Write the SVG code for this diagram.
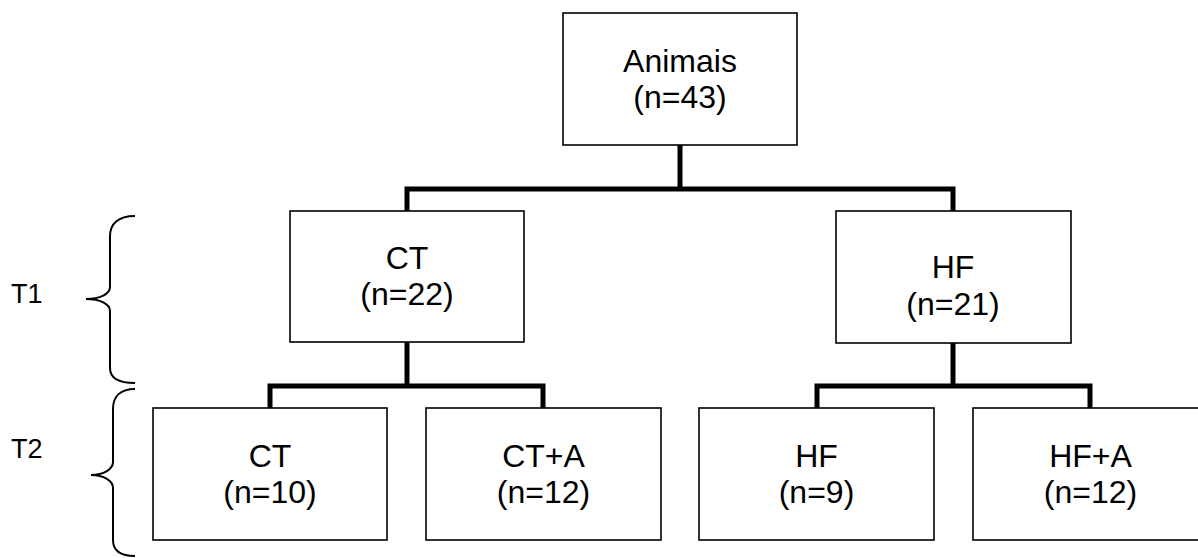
<svg xmlns="http://www.w3.org/2000/svg" width="1198" height="558" viewBox="0 0 1198 558">
<style>
.box{fill:#fff;stroke:#000;stroke-width:1.6}
.lbl{font-family:"Liberation Sans",Arial,sans-serif;font-size:32px;fill:#000;text-anchor:middle}
.side{font-family:"Liberation Sans",Arial,sans-serif;font-size:27px;fill:#000}
.conn{fill:none;stroke:#000;stroke-width:5;stroke-linejoin:miter;stroke-linecap:butt}
.brace{fill:none;stroke:#000;stroke-width:2}
</style>
<rect width="1198" height="558" fill="#fff"/>
<g id="connectors">
<path class="conn" d="M680,145 V189"/>
<path class="conn" d="M407,211 V189 H953 V211"/>
<path class="conn" d="M407,342 V386"/>
<path class="conn" d="M270,408 V386 H543 V408"/>
<path class="conn" d="M953,343 V386"/>
<path class="conn" d="M817,408 V386 H1090 V408"/>
</g>
<g id="animais">
<rect class="box" x="563" y="13" width="234" height="132"/>
<text class="lbl" x="680" y="72">Animais</text>
<text class="lbl" x="680" y="108">(n=43)</text>
</g>
<g id="ct1">
<rect class="box" x="290" y="211" width="234" height="131"/>
<text class="lbl" x="407" y="269">CT</text>
<text class="lbl" x="407" y="305">(n=22)</text>
</g>
<g id="hf1">
<rect class="box" x="836" y="211" width="235" height="132"/>
<text class="lbl" x="953" y="278">HF</text>
<text class="lbl" x="953" y="315">(n=21)</text>
</g>
<g id="ct2">
<rect class="box" x="153" y="408" width="234" height="132"/>
<text class="lbl" x="270" y="467">CT</text>
<text class="lbl" x="270" y="503">(n=10)</text>
</g>
<g id="cta">
<rect class="box" x="426" y="408" width="235" height="132"/>
<text class="lbl" x="543.5" y="467">CT+A</text>
<text class="lbl" x="543.5" y="503">(n=12)</text>
</g>
<g id="hf2">
<rect class="box" x="699" y="408" width="235" height="132"/>
<text class="lbl" x="816.5" y="467">HF</text>
<text class="lbl" x="816.5" y="503">(n=9)</text>
</g>
<g id="hfa">
<rect class="box" x="973" y="408" width="235" height="132"/>
<text class="lbl" x="1090.5" y="467">HF+A</text>
<text class="lbl" x="1090.5" y="503">(n=12)</text>
</g>
<g id="t1">
<path class="brace" d="M135,216 C118,216 110,224 110,236 L110,287 C110,294 100,299 86,299 C100,299 110,304 110,311 L110,368 C110,378 118,383 135,383"/>
<text class="side" x="11" y="303">T1</text>
</g>
<g id="t2">
<path class="brace" d="M135,389 C120,389 113,397 113,409 L113,462 C113,469 104,475 91,475 C104,475 113,481 113,488 L113,540 C113,550 120,556 135,556"/>
<text class="side" x="11" y="458">T2</text>
</g>
</svg>
